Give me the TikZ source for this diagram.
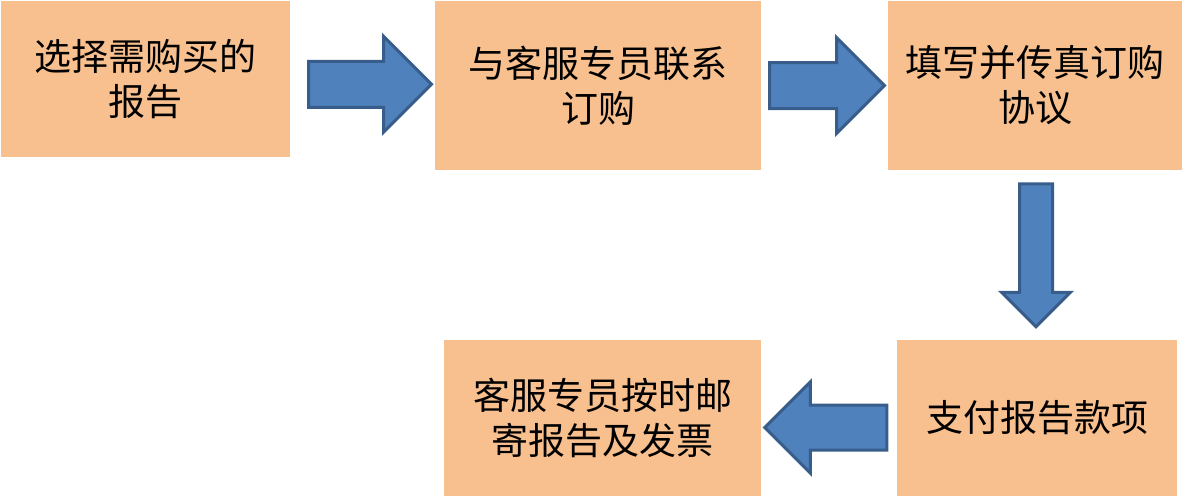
\documentclass[tikz,border=0pt]{standalone}
\usepackage{fontspec}
\newfontfamily\cjk{Noto Sans CJK SC}
\usepackage{tikz}
\usetikzlibrary{calc, shapes, arrows}
\usetikzlibrary{positioning}
\definecolor{boxfill}{HTML}{F9C08F}
\definecolor{arrowfill}{HTML}{4F81BD}
\definecolor{arrowline}{HTML}{385D8A}
\tikzstyle{stepbox} = [rectangle, fill=boxfill, text centered, align=center, font=\cjk\fontsize{37}{45}\selectfont]
\tikzstyle{blockarrow} = [single arrow, draw=arrowline, fill=arrowfill, line width=3pt, inner xsep=0pt, single arrow tip angle=90]

\begin{document}
\begin{tikzpicture}[x=1pt, y=-1pt]
        \useasboundingbox (0, 0) rectangle (1190, 498);
        \node[stepbox, minimum width=289pt, minimum height=156pt] at (145.5, 79) (select_report) {选择需购买的\\报告};
        \node[stepbox, minimum width=326pt, minimum height=169pt] at (598, 85.5) (contact_service) {与客服专员联系\\订购};
        \node[stepbox, minimum width=294pt, minimum height=169pt] at (1035, 85.5) (fax_agreement) {填写并传真订购\\协议};
        \node[stepbox, minimum width=280pt, minimum height=156pt] at (1037, 418) (pay_fee) {支付报告款项};
        \node[stepbox, minimum width=317pt, minimum height=156pt] at (602.5, 418) (mail_invoice) {客服专员按时邮\\寄报告及发票};

        \node[blockarrow, inner ysep=21.5pt, single arrow head extend=25pt, minimum height=123pt]
            at ($(select_report.east)!0.5!(contact_service.west)+(-4, 2)$) (arrow_order) {};
        \node[blockarrow, inner ysep=21.5pt, single arrow head extend=25pt, minimum height=115pt]
            at ($(contact_service.east)!0.5!(fax_agreement.west)+(-9, 0)$) (arrow_fax) {};
        \node[blockarrow, inner ysep=15pt, single arrow head extend=18pt, minimum height=143pt, rotate=-90]
            at ($(fax_agreement.south)!0.5!(pay_fee.north)+(0, -8)$) (arrow_pay) {};
        \node[blockarrow, inner ysep=21pt, single arrow head extend=23pt, minimum height=122pt, rotate=180]
            at ($(pay_fee.west)!0.5!(mail_invoice.east)+(8, 9.5)$) (arrow_mail) {};
    \end{tikzpicture}
\end{document}
